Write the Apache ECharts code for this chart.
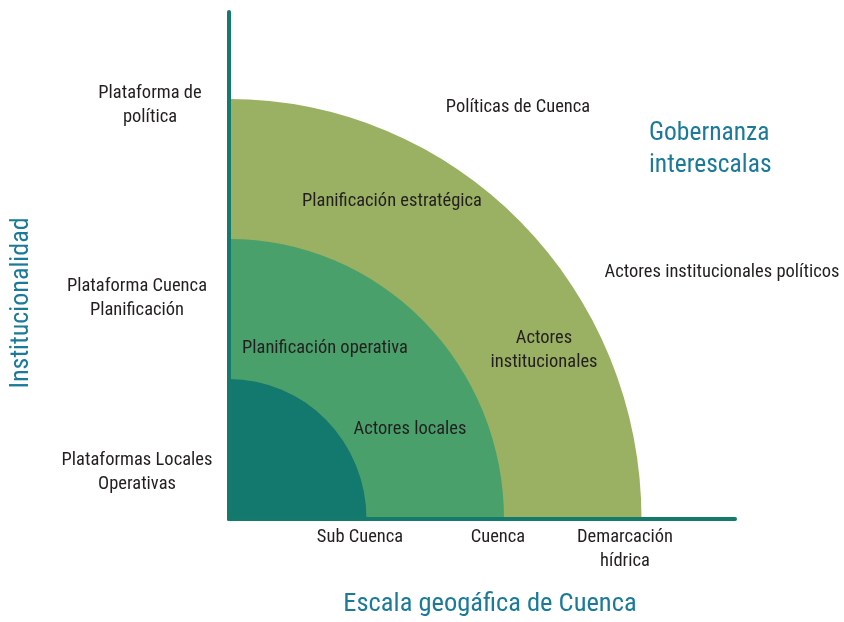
<!DOCTYPE html>
<html><head><meta charset="utf-8">
<script src="https://cdn.jsdelivr.net/npm/echarts@6/dist/echarts.min.js"></script>
<style>html,body{margin:0;padding:0;background:#fff}#c{width:844px;height:622px}</style>
</head><body><div id="c"></div>
<script>
// ---- data ----
const ringNames = ['Demarcación hídrica', 'Cuenca', 'Sub Cuenca'];
const ringRadii = [3, 2, 1];
const xTickLabels = ['Sub Cuenca', 'Cuenca', 'Demarcación\nhídrica'];
const xTickValues = [0.953, 1.956, 2.88];
const yTickLabels = ['Plataformas Locales\nOperativas', 'Plataforma Cuenca\nPlanificación', 'Plataforma de\npolítica'];
const yTickValues = [0.336, 1.579, 2.957];
const xAxisTitle = 'Escala geogáfica de Cuenca';
const yAxisTitle = 'Institucionalidad';
const cornerTitle = 'Gobernanza\ninterescalas';
const regionTexts = ['Políticas de Cuenca', 'Planificación estratégica', 'Actores institucionales políticos',
  'Planificación operativa', 'Actores\ninstitucionales', 'Actores locales'];

// ---- styles ----
const ringColors = ['#9ab062', '#49a06a', '#13786d'];
const axisColor = '#147a6c';
const titleColor = '#1b7a99';
const textColor = '#231f20';
const FONT = "'Liberation Sans Narrow', 'Roboto Condensed', 'DejaVu Sans Condensed', Roboto, sans-serif";
const FS = 18.5;
const regionPos = [[518, 107], [392, 201], [722, 272], [325, 348], [544, 350], [410, 429]];

function nearestIdx(arr, v) {
  let b = 0; for (let i = 1; i < arr.length; i++) if (Math.abs(arr[i] - v) < Math.abs(arr[b] - v)) b = i; return b;
}

const chart = echarts.init(document.getElementById('c'), null, {renderer: 'canvas'});
const graphics = regionTexts.map((t, i) => ({
  type: 'text', x: regionPos[i][0], y: regionPos[i][1], z: 10,
  style: {text: t, fill: textColor, fontFamily: FONT, fontSize: FS, lineHeight: 24, align: 'center', verticalAlign: 'middle'}
}));
graphics.push({type: 'text', x: 490, y: 604, z: 10,
  style: {text: xAxisTitle, fill: titleColor, fontFamily: FONT, fontSize: 26.5, align: 'center', verticalAlign: 'middle'}});
graphics.push({type: 'text', x: 21, y: 303, rotation: Math.PI / 2, z: 10,
  style: {text: yAxisTitle, fill: titleColor, fontFamily: FONT, fontSize: 26, align: 'center', verticalAlign: 'middle'}});
graphics.push({type: 'text', x: 649, y: 150, z: 10,
  style: {text: cornerTitle, fill: titleColor, fontFamily: FONT, fontSize: 25.5, lineHeight: 32, align: 'left', verticalAlign: 'middle'}});

chart.setOption({
  animation: false,
  backgroundColor: '#ffffff',
  grid: {left: 229, top: 12, width: 506, height: 507},
  xAxis: {
    type: 'value', min: 0, max: 3.68, z: 5,
    axisLine: {show: true, onZero: false, lineStyle: {color: axisColor, width: 4, cap: 'round'}},
    axisTick: {show: false}, splitLine: {show: false},
    axisLabel: {
      customValues: xTickValues, margin: 6, color: textColor, fontFamily: FONT, fontSize: FS, lineHeight: 24,
      formatter: v => xTickLabels[nearestIdx(xTickValues, v)]
    }
  },
  yAxis: {
    type: 'value', min: 0, max: 3.621, z: 5,
    axisLine: {show: true, onZero: false, lineStyle: {color: axisColor, width: 4, cap: 'round'}},
    axisTick: {show: false}, splitLine: {show: false},
    axisLabel: {
      customValues: yTickValues, margin: 92, align: 'center', verticalAlign: 'middle',
      color: textColor, fontFamily: FONT, fontSize: FS, lineHeight: 24,
      formatter: v => { const i = nearestIdx(yTickValues, v); return '{s' + i + '|' + yTickLabels[i] + '}'; },
      rich: {
        s0: {color: textColor, fontFamily: FONT, fontSize: FS, lineHeight: 24},
        s1: {color: textColor, fontFamily: FONT, fontSize: FS, lineHeight: 24},
        s2: {color: textColor, fontFamily: FONT, fontSize: FS, lineHeight: 24, padding: [0, 0, 0, 26]}
      }
    }
  },
  graphic: graphics,
  series: [{
    type: 'custom', name: 'Escalas', z: 2,
    data: ringRadii.map((r, i) => ({name: ringNames[i], value: [r]})),
    renderItem: function (params, api) {
      const r = api.value(0);
      const o = api.coord([0, 0]);
      const rx = api.size([r, 0])[0];
      const ry = api.size([0, r])[1];
      return {
        type: 'path',
        shape: {pathData: 'M' + o[0] + ' ' + o[1] + 'L' + (o[0] + rx) + ' ' + o[1] +
          'A' + rx + ' ' + ry + ' 0 0 0 ' + o[0] + ' ' + (o[1] - ry) + 'Z'},
        style: {fill: ringColors[params.dataIndex]}
      };
    }
  }]
});
</script></body></html>
